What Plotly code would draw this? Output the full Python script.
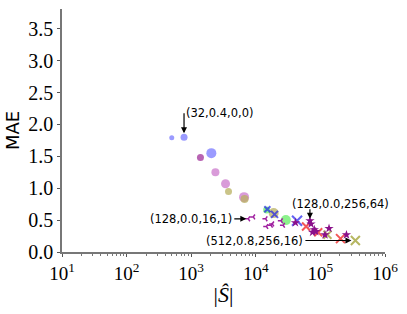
import plotly.graph_objects as go

# ---- data ----
blue_c_x = [500, 775, 2050]
blue_c_y = [1.79, 1.80, 1.55]
purple_c_x = [1390]
purple_c_y = [1.48]
orchid_c_x = [2370, 3400, 6580]
orchid_c_y = [1.25, 1.07, 0.86]
olive_c_x = [3780, 6700, 18900]
olive_c_y = [0.95, 0.83, 0.61]
green_c_x = [14700, 29200]
green_c_y = [0.66, 0.50]
blue_x_x = [15100, 19500, 43500]
blue_x_y = [0.67, 0.59, 0.49]
red_x_x = [60000, 92500, 205000]
red_x_y = [0.40, 0.31, 0.21]
olive_x_x = [128500, 348000]
olive_x_y = [0.27, 0.18]
tri_x = [7650, 9150, 14200, 14600, 17200, 18000, 24600, 26500]
tri_y = [0.52, 0.55, 0.52, 0.40, 0.42, 0.44, 0.49, 0.42]
star_x = [41100, 68900, 71600, 80500, 75600, 85000, 117800, 136000, 253000]
star_y = [0.46, 0.49, 0.44, 0.35, 0.31, 0.32, 0.27, 0.37, 0.27]

ann_labels = ["(32,0.4,0,0)", "(128,0.0,16,1)", "(128,0.0,256,64)", "(512,0.8,256,16)"]
ann_x = [775, 7650, 68900, 348000]
ann_y = [1.80, 0.52, 0.49, 0.18]

x_tick_vals = [10, 100, 1000, 10000, 100000, 1000000]
x_tick_text = ["10<sup>1</sup>", "10<sup>2</sup>", "10<sup>3</sup>", "10<sup>4</sup>",
               "10<sup>5</sup>", "10<sup>6</sup>"]
y_tick_vals = [0.0, 0.5, 1.0, 1.5, 2.0, 2.5, 3.0, 3.5]
y_tick_text = ["0.0", "0.5", "1.0", "1.5", "2.0", "2.5", "3.0", "3.5"]

fig = go.Figure()

def circles(x, y, color, sizes):
    fig.add_trace(go.Scatter(x=x, y=y, mode="markers",
                             marker=dict(symbol="circle", color=color, size=sizes,
                                         opacity=0.75, line=dict(width=0))))

def xs(x, y, color, sizes):
    fig.add_trace(go.Scatter(x=x, y=y, mode="markers",
                             marker=dict(symbol="x-thin", size=sizes,
                                         line=dict(color=color, width=2))))

circles(blue_c_x, blue_c_y, "#7a7aff", [5, 7, 10])
circles(purple_c_x, purple_c_y, "#a0309a", [7])
circles(orchid_c_x, orchid_c_y, "#cc7acc", [8, 9, 10])
circles(olive_c_x, olive_c_y, "#b8b060", [7, 8, 10])
circles(green_c_x, green_c_y, "#66ee66", [7, 10])
xs(blue_x_x, blue_x_y, "#2020ee", [6, 7, 10])
xs(red_x_x, red_x_y, "#ee1010", [8, 8, 9])
xs(olive_x_x, olive_x_y, "#9a9a20", [8, 9])
fig.add_trace(go.Scatter(x=tri_x, y=tri_y, mode="markers",
                         marker=dict(symbol="y-left", size=4,
                                     line=dict(color="#a020a0", width=1.5))))
fig.add_trace(go.Scatter(x=star_x, y=star_y, mode="markers",
                         marker=dict(symbol="star", size=7, color="#8a108a",
                                     line=dict(width=0))))

font_ann = dict(family="DejaVu Sans", size=11.5, color="black")
arrow_kw = dict(showarrow=True, arrowhead=2, arrowsize=1, arrowwidth=1.2,
                arrowcolor="black", xref="x", yref="y", font=font_ann)
# (32,0.4,0,0)
fig.add_annotation(x=2.889, y=ann_y[0], text=ann_labels[0], xanchor="left",
                   yanchor="middle", ax=0, ay=-24, standoff=4, **arrow_kw)
# (128,0.0,16,1)
fig.add_annotation(x=3.884, y=ann_y[1], text=ann_labels[1], xanchor="right",
                   yanchor="middle", ax=-14, ay=0, standoff=2, **arrow_kw)
# (128,0.0,256,64): vertical arrow plus label above-left
fig.add_annotation(x=4.838, y=ann_y[2], text="", xanchor="center",
                   ax=0, ay=-13, standoff=2, **arrow_kw)
fig.add_annotation(x=4.838, y=ann_y[2], text=ann_labels[2], showarrow=False,
                   xref="x", yref="y", xanchor="left", yanchor="middle",
                   xshift=-20, yshift=17, font=font_ann)
# (512,0.8,256,16)
fig.add_annotation(x=5.542, y=ann_y[3], text=ann_labels[3], xanchor="right",
                   yanchor="middle", ax=-50, ay=0, standoff=4, **arrow_kw)

fig.update_layout(
    width=407, height=314,
    margin=dict(l=62, r=19, t=9, b=62),
    paper_bgcolor="white", plot_bgcolor="white",
    showlegend=False,
    xaxis=dict(type="log", range=[1, 6], tickmode="array",
               tickvals=x_tick_vals, ticktext=x_tick_text,
               ticks="outside", ticklen=3, tickcolor="#555",
               showline=True, linecolor="#777", linewidth=1.5,
               showgrid=False, zeroline=False,
               minor=dict(ticks="outside", ticklen=2, tickcolor="#777", dtick="D1",
                          showgrid=False),
               tickfont=dict(family="Liberation Serif", size=19, color="black"),
               title=dict(text="|<i>Ŝ</i>|", font=dict(family="Liberation Serif", size=22, color="black"),
                          standoff=4)),
    yaxis=dict(range=[0, 3.81], tickmode="array",
               tickvals=y_tick_vals, ticktext=y_tick_text,
               ticks="outside", ticklen=3, tickcolor="#555",
               showline=True, linecolor="#777", linewidth=1.5,
               showgrid=False, zeroline=False,
               tickfont=dict(family="Liberation Serif", size=20, color="black"),
               title=dict(text="MAE", font=dict(family="DejaVu Sans", size=18, color="black"),
                          standoff=4)),
)

fig.write_html("out.html", config={"displayModeBar": False},
               post_script="document.body.style.margin='0';")
